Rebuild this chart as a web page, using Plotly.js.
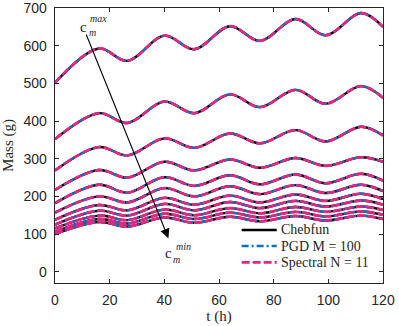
<!DOCTYPE html>
<html>
<head>
<meta charset="utf-8">
<script src="https://cdn.plot.ly/plotly-3.0.1.min.js"></script>
<style>
  html, body { margin: 0; padding: 0; background: #fff; }
  #chart { width: 399px; height: 326px; }
</style>
</head>
<body>
<div id="chart"></div>
<script>
// times (h) of the turning points
const tPoints = [0, 16, 26.5, 40, 51, 64, 75, 88, 99, 112, 120];

// mass (g) at those times, one row per c_m, from c_m max (top) to c_m min (bottom)
const mass1  = [502, 593, 560, 627, 591, 652, 613, 671, 628, 687, 650];
const mass2  = [352, 421, 395, 452, 421, 471, 437, 483, 446, 493, 462];
const mass3  = [269, 331, 309, 354, 329, 367, 341, 376, 346, 385, 362];
const mass4  = [217, 270, 250, 292, 269, 298, 276, 302, 281, 304, 292];
const mass5  = [182, 231, 210, 251, 228, 256, 232, 258, 235, 260, 242];
const mass6  = [157, 200, 184, 222, 200, 227, 206, 230, 209, 231, 214];
const mass7  = [138, 177, 163, 196, 178, 202, 184, 205, 188, 207, 193];
const mass8  = [125, 162, 149, 180, 163, 185, 169, 188, 173, 189, 178];
const mass9  = [115, 149, 137, 165, 150, 169, 155, 172, 159, 173, 164];
const mass10 = [106, 140, 128, 154, 140, 157, 144, 159, 147, 160, 151];
const mass11 = [100, 132, 120, 144, 130, 146, 134, 148, 136, 149, 140];

const curves = [mass1, mass2, mass3, mass4, mass5, mass6, mass7, mass8, mass9, mass10, mass11];

const methodNames = ['Chebfun', 'PGD M = 100', 'Spectral N = 11'];
const xTicks = [0, 20, 40, 60, 80, 100, 120];
const yTicks = [0, 100, 200, 300, 400, 500, 600, 700];

// one style per method; drawn in this order so the dashed one sits on top
const methodStyles = [
    { color: '#000000', width: 2.4, dash: 'solid' },
    { color: '#0a72c4', width: 2.4, dash: '7px,3px,2px,3px' },
    { color: '#e3267f', width: 2.7, dash: '8px,3px' }
];

const serif = 'Liberation Serif, Times New Roman, serif';
const sans = 'Liberation Sans, Arial, sans-serif';
const ink = '#262626';

const data = [];
methodNames.forEach((name, m) => {
    curves.forEach(ys => {
        data.push({
            x: tPoints,
            y: ys,
            type: 'scatter',
            mode: 'lines',
            name: name,
            showlegend: false,
            line: Object.assign({ shape: 'spline', smoothing: 1 }, methodStyles[m]),
            hoverinfo: 'skip'
        });
    });
});

// hand-made legend (MATLAB style rows are tighter than plotly's)
const legendX0 = 0.569, legendX1 = 0.676, legendTextX = 0.683;
const legendRows = [0.193, 0.1345, 0.075];
const shapes = [];
const annotations = [];
methodNames.forEach((name, m) => {
    const st = methodStyles[m];
    shapes.push({
        type: 'line', xref: 'paper', yref: 'paper',
        x0: legendX0, x1: legendX1, y0: legendRows[m], y1: legendRows[m],
        line: { color: st.color, width: st.width, dash: st.dash }
    });
    annotations.push({
        xref: 'paper', yref: 'paper', x: legendTextX, y: legendRows[m],
        xanchor: 'left', yanchor: 'middle', text: name, showarrow: false,
        font: { family: serif, size: 14, color: ink }
    });
});

// arrow from c_m max to c_m min, and the two labels
const small = { family: serif, size: 10, color: ink };
annotations.push(
    { x: 41.5, y: 89, ax: 11.2, ay: 634, xref: 'x', yref: 'y', axref: 'x', ayref: 'y',
      text: '', showarrow: true, arrowhead: 2, arrowsize: 1.7, arrowwidth: 1.1, arrowcolor: '#000' },
    { x: 10.5, y: 650, xref: 'x', yref: 'y', text: 'c', showarrow: false,
      font: { family: serif, size: 15, color: ink } },
    { x: 16.0, y: 672, xref: 'x', yref: 'y', text: '<i>max</i>', showarrow: false,
      borderpad: 0, font: small },
    { x: 13.6, y: 636, xref: 'x', yref: 'y', text: '<i>m</i>', showarrow: false,
      borderpad: 0, font: small },
    { x: 41.6, y: 51, xref: 'x', yref: 'y', text: 'c', showarrow: false,
      font: { family: serif, size: 15, color: ink } },
    { x: 47.0, y: 68, xref: 'x', yref: 'y', text: '<i>min</i>', showarrow: false,
      borderpad: 0, font: small },
    { x: 44.6, y: 33, xref: 'x', yref: 'y', text: '<i>m</i>', showarrow: false,
      borderpad: 0, font: small }
);

const axisCommon = {
    showgrid: false,
    zeroline: false,
    showline: true,
    linecolor: ink,
    linewidth: 1.3,
    mirror: 'ticks',
    ticks: 'inside',
    ticklen: 4,
    tickwidth: 1,
    tickcolor: ink,
    tickfont: { family: sans, size: 14, color: ink },
    ticklabelstandoff: 4,
    ticklabeloverflow: 'allow'
};

const layout = {
    width: 399,
    height: 326,
    margin: { l: 55, r: 16, t: 8, b: 43 },
    paper_bgcolor: '#ffffff',
    plot_bgcolor: '#ffffff',
    showlegend: false,
    xaxis: Object.assign({}, axisCommon, {
        range: [0, 120],
        tickvals: xTicks,
        title: { text: 't (h)', font: { family: serif, size: 15, color: ink }, standoff: 1 }
    }),
    yaxis: Object.assign({}, axisCommon, {
        range: [-30, 700.4],
        tickvals: yTicks,
        title: { text: 'Mass (g)', font: { family: serif, size: 15, color: ink }, standoff: 6 }
    }),
    shapes: shapes,
    annotations: annotations
};

Plotly.newPlot('chart', data, layout, { displayModeBar: false, staticPlot: true });
</script>
</body>
</html>
